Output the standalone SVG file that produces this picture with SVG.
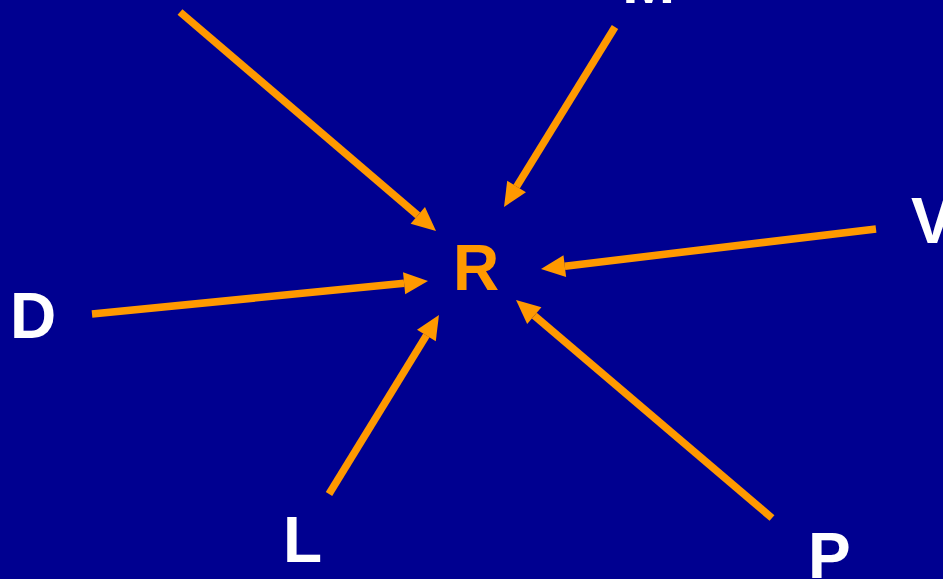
<svg xmlns="http://www.w3.org/2000/svg" width="943" height="579" viewBox="0 0 943 579">
  <style>
    .lbl { font-family: "Liberation Sans", Arial, sans-serif; font-weight: bold; font-size: 64px; fill: #FFFFFF; }
    .ctr { fill: #FF9900; }
    .arr { stroke: #FF9900; stroke-width: 7.5; fill: none; stroke-linecap: butt; marker-end: url(#ah); }
  </style>
  <defs>
    <marker id="ah" markerUnits="userSpaceOnUse" viewBox="0 -12 25 24" refX="0" refY="0" markerWidth="25" markerHeight="24" orient="auto" overflow="visible">
      <path d="M0,-11 L24,0 L0,11 z" fill="#FF9900"/>
    </marker>
  </defs>
  <rect x="0" y="0" width="943" height="579" fill="#000090"/>
  <g id="connectors">
    <line class="arr" x1="180" y1="12" x2="417.8" y2="215.4"/>
    <line class="arr" x1="615" y1="27" x2="516.6" y2="186.6"/>
    <line class="arr" x1="876" y1="229" x2="564.8" y2="266.2"/>
    <line class="arr" x1="92" y1="314" x2="404.1" y2="283.3"/>
    <line class="arr" x1="329" y1="494" x2="426.4" y2="335.4"/>
    <line class="arr" x1="772" y1="518" x2="534.3" y2="315.6"/>
  </g>
  <g id="node-R"><text class="lbl ctr" x="453" y="290">R</text></g>
  <g id="node-M"><text class="lbl" x="622" y="3">M</text></g>
  <g id="node-V"><text class="lbl" x="911" y="243">V</text></g>
  <g id="node-D"><text class="lbl" x="10" y="338">D</text></g>
  <g id="node-L"><text class="lbl" x="283" y="562">L</text></g>
  <g id="node-P"><text class="lbl" x="808" y="578">P</text></g>
</svg>
